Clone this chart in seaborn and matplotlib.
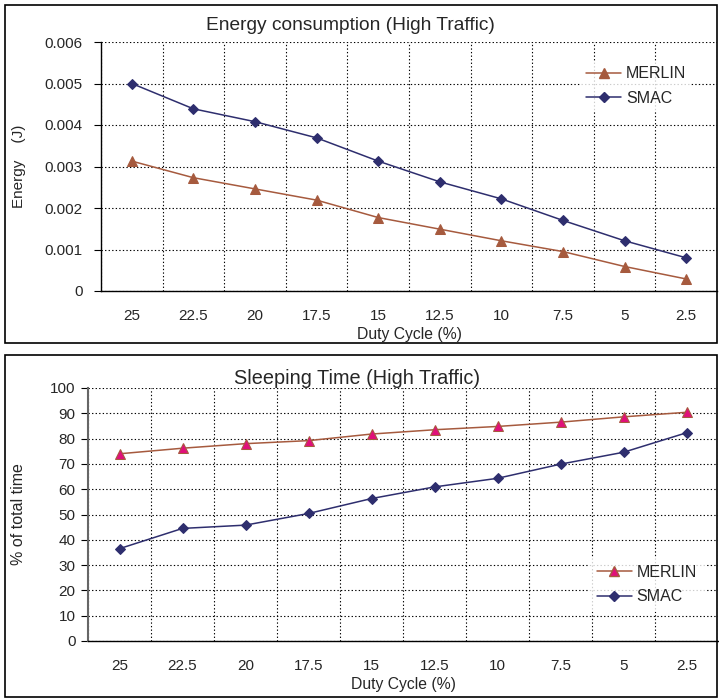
"""
Deux graphiques : énergie consommée et temps de sommeil (trafic élevé),
MERLIN contre SMAC selon le duty cycle.
"""

import pandas as pd
import matplotlib.pyplot as plt
import seaborn as sns
from matplotlib.patches import Rectangle
from matplotlib.lines import Line2D

# Données
duty_cycle = ["25", "22.5", "20", "17.5", "15", "12.5", "10", "7.5", "5", "2.5"]

energie_merlin = [0.00313, 0.00273, 0.00246, 0.00219, 0.00177, 0.00149, 0.00121, 0.00095, 0.00059, 0.00029]
energie_smac = [0.00500, 0.00439, 0.00408, 0.00369, 0.00313, 0.00263, 0.00222, 0.00170, 0.00121, 0.00080]

sommeil_merlin = [74.0, 76.2, 78.0, 79.2, 81.8, 83.5, 84.8, 86.5, 88.6, 90.4]
sommeil_smac = [36.5, 44.5, 45.8, 50.4, 56.3, 60.9, 64.3, 69.9, 74.6, 82.3]

protocoles = ["MERLIN", "SMAC"]
couleurs = {"MERLIN": "#A65A3E", "SMAC": "#2E2E6E"}
marqueurs = {"MERLIN": "^", "SMAC": "D"}
tailles = {"MERLIN": 6.5, "SMAC": 5}


def en_long(merlin, smac):
    lignes = []
    for i, dc in enumerate(duty_cycle):
        lignes.append({"pos": i, "dc": dc, "proto": "MERLIN", "val": merlin[i]})
        lignes.append({"pos": i, "dc": dc, "proto": "SMAC", "val": smac[i]})
    return pd.DataFrame(lignes)


sns.set_style("white")
plt.rcParams['font.family'] = ['Liberation Sans', 'DejaVu Sans']

fig = plt.figure(figsize=(7.19, 7.0), dpi=100)

# Cadres noirs autour des deux panneaux
fig.patches.append(Rectangle((5 / 719, 1 - 343 / 700), 712 / 719, 338 / 700,
                             transform=fig.transFigure, fill=False, edgecolor="black", lw=1.2))
fig.patches.append(Rectangle((5 / 719, 1 - 697 / 700), 712 / 719, 342 / 700,
                             transform=fig.transFigure, fill=False, edgecolor="black", lw=1.2))

ax1 = fig.add_axes([101 / 719, 1 - 291 / 700, 616 / 719, 249 / 700])
ax2 = fig.add_axes([88 / 719, 1 - 641 / 700, 630 / 719, 253 / 700])


def dessiner(ax, df, ymax, ystep, fmt, face_merlin, ypad):
    sns.lineplot(data=df, x="pos", y="val", hue="proto", style="proto",
                 hue_order=protocoles, style_order=protocoles,
                 palette=couleurs, markers=marqueurs, dashes=False,
                 linewidth=1.1, legend=False, ax=ax)
    for ligne, proto in zip(ax.lines, protocoles):
        ligne.set_markeredgecolor(couleurs[proto])
        ligne.set_markersize(tailles[proto])
        if proto == "MERLIN":
            ligne.set_markerfacecolor(face_merlin)

    ax.set_xlim(-0.5, 9.5)
    ax.set_ylim(0, ymax)
    ax.set_xticks([i - 0.5 for i in range(11)])
    ax.set_xticklabels([])
    ax.set_xticks(range(10), minor=True)
    ax.set_xticklabels(duty_cycle, minor=True, fontsize=11)
    ax.tick_params(axis="x", which="major", direction="out", length=6, width=0.8, color="black")
    ax.tick_params(axis="x", which="minor", length=0, pad=13)

    yt = [round(k * ystep, 6) for k in range(int(round(ymax / ystep)) + 1)]
    ax.set_yticks(yt)
    ax.set_yticklabels([fmt(v) for v in yt], fontsize=11)
    ax.tick_params(axis="y", direction="out", length=5, width=0.8, color="black", left=True, pad=ypad)

    ax.grid(True, which="major", color="black", linestyle=(0, (1.2, 2)), linewidth=0.8)
    for s in ["top", "right"]:
        ax.spines[s].set_visible(False)
    for s in ["left", "bottom"]:
        ax.spines[s].set_color("black")
        ax.spines[s].set_linewidth(1.0)
    ax.set_xlabel("Duty Cycle (%)", fontsize=11.3, labelpad=3)


def poignees(face_merlin):
    return [Line2D([], [], color=couleurs[p], marker=marqueurs[p], lw=1.1,
                   markersize=tailles[p],
                   markerfacecolor=face_merlin if p == "MERLIN" else couleurs[p],
                   markeredgecolor=couleurs[p]) for p in protocoles]


# Panneau du haut : énergie
df_e = en_long(energie_merlin, energie_smac)
dessiner(ax1, df_e, 0.006, 0.001, lambda v: "0" if v == 0 else f"{v:.3f}", couleurs["MERLIN"], 8)
ax1.set_ylabel("Energy    (J)", fontsize=11)
ax1.yaxis.set_label_coords(-0.121, 0.5)
ax1.legend(handles=poignees(couleurs["MERLIN"]), labels=protocoles,
           loc="center left", bbox_to_anchor=(0.767, 0.823),
           frameon=True, facecolor="white", edgecolor="none", fancybox=False,
           fontsize=11.5, handlelength=2.2, handletextpad=0.3, labelspacing=0.6, borderpad=0.3)
fig.text(350 / 719, 1 - 25 / 700, "Energy consumption (High Traffic)", ha="center", va="center", fontsize=13.8)

# Panneau du bas : temps de sommeil
df_s = en_long(sommeil_merlin, sommeil_smac)
dessiner(ax2, df_s, 100, 10, lambda v: f"{int(v)}", "#E0107A", 4)
ax2.spines["left"].set_color("#666666")
ax2.spines["left"].set_linewidth(1.5)
ax2.set_ylabel("% of total time", fontsize=11.5)
ax2.yaxis.set_label_coords(-0.099, 0.5)
ax2.legend(handles=poignees("#E0107A"), labels=protocoles,
           loc="center left", bbox_to_anchor=(0.782, 0.223),
           frameon=True, facecolor="white", edgecolor="none", fancybox=False,
           fontsize=11.5, handlelength=2.2, handletextpad=0.3, labelspacing=0.6, borderpad=0.5)
fig.text(357 / 719, 1 - 378 / 700, "Sleeping Time (High Traffic)", ha="center", va="center", fontsize=14.3)

plt.savefig("out.png", dpi=100)
